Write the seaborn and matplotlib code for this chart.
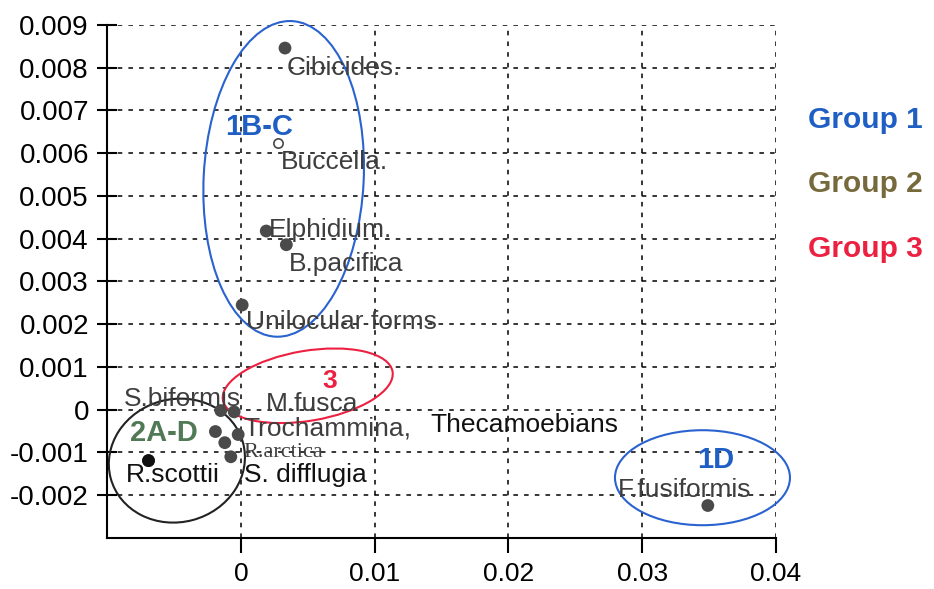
import pandas as pd
import matplotlib
matplotlib.use("Agg")
import matplotlib.pyplot as plt
import matplotlib.transforms as mtransforms
from matplotlib.patches import Ellipse
import seaborn as sns

sns.set_theme(style="white")
plt.rcParams['font.family'] = ['Liberation Sans', 'DejaVu Sans']

# ordination scores
species = ["Cibicides.", "Buccella.", "Elphidium.", "B.pacifica", "Unilocular forms",
           "S.biformis", "M.fusca", "Trochammina,", "Thecamoebians", "R.arctica",
           "S. difflugia", "R.scottii", "F.fusiformis"]
axis1 = [0.0033, 0.0028, 0.0019, 0.0034, 0.0001,
         -0.0015, -0.0005, -0.0002, -0.0019, -0.00075,
         -0.0012, -0.0069, 0.0349]
axis2 = [0.00846, 0.00624, 0.00418, 0.00386, 0.00245,
         -0.00002, -0.00005, -0.00058, -0.00051, -0.0011,
         -0.00077, -0.00119, -0.00224]

xticks = [0, 0.01, 0.02, 0.03, 0.04]
xticklabels = ["0", "0.01", "0.02", "0.03", "0.04"]
yticks = [-0.002, -0.001, 0, 0.001, 0.002, 0.003, 0.004, 0.005, 0.006, 0.007, 0.008, 0.009]
yticklabels = ["-0.002", "-0.001", "0", "0.001", "0.002", "0.003", "0.004",
               "0.005", "0.006", "0.007", "0.008", "0.009"]

groups = ["1B-C", "2A-D", "3", "1D"]
group_x = [0.00134, -0.00575, 0.00665, 0.0355]
group_y = [0.00661, -0.00054, 0.00068, -0.00117]

legend_names = ["Group 1", "Group 2", "Group 3"]

df = pd.DataFrame({"species": species, "x": axis1, "y": axis2})

# label offsets (points) and colours
offsets = {"Cibicides.": (1, -14), "Buccella.": (2, -14), "Elphidium.": (2, 1),
           "B.pacifica": (2, -14), "Unilocular forms": (3, -12),
           "S.biformis": (-70, 8), "M.fusca": (23, 6), "Trochammina,": (4, 4),
           "Thecamoebians": (155, 5), "R.arctica": (9, 3), "S. difflugia": (14, -23),
           "R.scottii": (-16, -10), "F.fusiformis": (-65, 11)}
black_labels = ["Thecamoebians", "S. difflugia", "R.scottii"]
group_colors = ["#1f5fc4", "#4f7a55", "#ec2040", "#1f5fc4"]
group_sizes = [21, 21, 19, 21]
legend_colors = ["#1f5fc4", "#766a3c", "#ec2040"]

fig = plt.figure(figsize=(9.34, 5.89), dpi=100)
ax = fig.add_axes([0.1146, 0.0866, 0.7163, 0.871])

filled = df[df.species != "Buccella."]
sns.scatterplot(data=filled, x="x", y="y", ax=ax, s=85, color="#4a4a4a",
                edgecolor="none", zorder=3)
sns.scatterplot(data=df[df.species == "R.scottii"], x="x", y="y", ax=ax, s=85,
                color="#111111", edgecolor="none", zorder=4)
sns.scatterplot(data=df[df.species == "Buccella."], x="x", y="y", ax=ax, s=45,
                facecolor="white", edgecolor="#4a4a4a", linewidth=1.2, zorder=3)

for name, x, y in zip(species, axis1, axis2):
    fam = ['Liberation Serif'] if name == "R.arctica" else ['Liberation Sans', 'DejaVu Sans']
    size = 16 if name == "R.arctica" else 19
    col = "#111111" if name in black_labels else "#3e3e3e"
    ax.annotate(name, (x, y), xytext=offsets[name], textcoords="offset points",
                ha="left", va="center", fontsize=size, color=col, family=fam, zorder=5)

for g, x, y, c, fs in zip(groups, group_x, group_y, group_colors, group_sizes):
    ax.text(x, y, g, ha="center", va="center", fontsize=fs, fontweight="bold",
            color=c, zorder=5)

# ellipses: centre (data), width/height (inches), angle, colour
ellipses = [((0.0032, 0.0054), 1.60, 3.16, -3, "#2a62d0"),
            ((-0.00478, -0.00119), 1.37, 1.23, 15, "#222222"),
            ((0.0050, 0.00056), 1.72, 0.70, 9.5, "#ec2040"),
            ((0.0345, -0.00159), 1.75, 0.95, 0, "#2a62d0")]
for (cx, cy), w, h, a, c in ellipses:
    tr = fig.dpi_scale_trans + mtransforms.ScaledTranslation(cx, cy, ax.transData)
    ax.add_patch(Ellipse((0, 0), w, h, angle=a, fill=False, edgecolor=c,
                         linewidth=1.5, transform=tr, zorder=2, clip_on=False))

ax.set_xlim(-0.01, 0.04)
ax.set_ylim(-0.003, 0.009)
ax.set_xticks(xticks)
ax.set_xticklabels(xticklabels)
ax.set_yticks(yticks)
ax.set_yticklabels(yticklabels)
ax.set_xlabel("")
ax.set_ylabel("")

ax.grid(True, color="black", linestyle=(0, (3, 4)), linewidth=1.1)
ax.set_axisbelow(True)
for side in ["top", "right"]:
    ax.spines[side].set_visible(False)
for side in ["left", "bottom"]:
    ax.spines[side].set_color("black")
    ax.spines[side].set_linewidth(1.5)

ax.tick_params(axis="x", direction="out", length=11, width=1.5, pad=6,
               labelsize=19, colors="black", bottom=True)
ax.tick_params(axis="y", direction="inout", length=14, width=1.5, pad=6,
               labelsize=20, colors="black", left=True)

for i, (n, c) in enumerate(zip(legend_names, legend_colors)):
    fig.text(0.865, 0.796 - 0.109 * i, n, ha="left", va="center", fontsize=21.5,
             fontweight="bold", color=c)

fig.savefig("out.png", dpi=100)
